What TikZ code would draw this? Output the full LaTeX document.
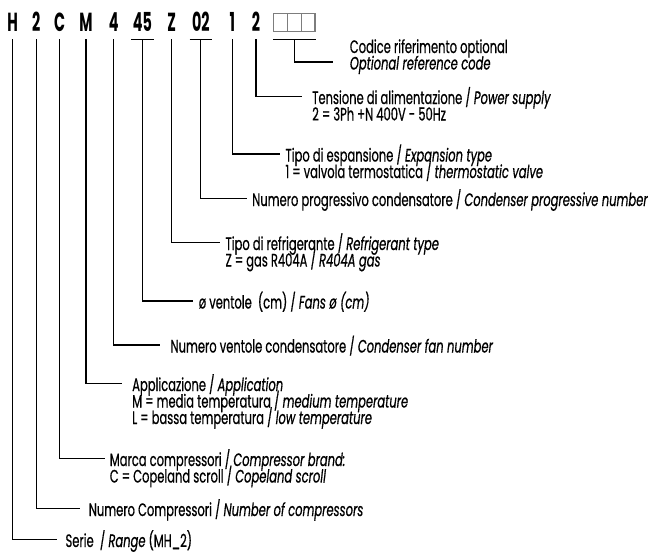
\documentclass[tikz,border=0pt]{standalone}
\usepackage{fontspec}
\setmainfont{Poppins}[FakeStretch=0.64, FakeBold=0.6]
\newfontfamily\codefont{Poppins}[FakeStretch=0.55]

\tikzset{every picture/.style={line width=0.8pt}}
\tikzset{
  code/.style={anchor=base, inner xsep=0pt, inner ysep=5.1pt, text depth=0pt,
    font=\codefont\bfseries\fontsize{19.6}{20}\selectfont},
  lbl/.style={anchor=base west, inner sep=0pt, text height=11.25pt, text depth=0pt,
    font=\fontsize{13.5}{15}\selectfont},
  leader/.style={shorten >=3.75pt},
  slot/.style={color={rgb, 255:red, 125; green, 125; blue, 125}}
}

\begin{document}
\begin{tikzpicture}[x=0.75pt,y=0.75pt,yscale=-1,xscale=1]
\useasboundingbox (0,0) rectangle (655,554);

%Code letters
\node [code] (cH) at (12.7,31.7) {H};
\node [code] (cNa) at (36.2,31.7) {2};
\node [code] (cC) at (59.7,31.7) {C};
\node [code] (cM) at (86,31.7) {M};
\node [code] (cF) at (113.8,31.7) {4};
\node [code, minimum width=16.2pt] (cD) at (142.5,31.7) {45};
\node [code] (cZ) at (171.7,31.7) {Z};
\node [code, minimum width=16.3pt] (cP) at (200.9,31.7) {02};
\node [code] (cE) at (232.2,31.7) {1};
\node [code] (cV) at (256,31.7) {2};
\node [code, minimum width=31.3pt] (cO) at (294.2,31.7) {\phantom{0}};

%Shape: empty boxes
\foreach \i in {0,1,2}
  \draw [slot] (273.3+13.9*\i,13.3) rectangle ++(13.9,18.4);

%Straight Lines (underlines)
\draw (cD.south west) -- (cD.south east);
\draw (cP.south west) -- (cP.south east);
\draw (cO.south west) -- (cO.south east);

% Text Node
\node [lbl] (tO) at (349.3,53) {Codice riferimento optional};
\node [lbl] (tOb) at (349.3,69.5) {\itshape Optional reference code};
% Text Node
\node [lbl] (tV) at (311.7,104) {Tensione di alimentazione / \textit{Power supply}};
\node [lbl] (tVb) at (311.7,120.5) {2 = 3Ph +N 400V - 50Hz};
% Text Node
\node [lbl] (tE) at (285,161.5) {Tipo di espansione / \textit{Expansion type}};
\node [lbl] (tEb) at (285,178) {1 = valvola termostatica / \textit{thermostatic valve}};
% Text Node
\node [lbl] (tP) at (251.7,206) {Numero progressivo condensatore / \textit{Condenser progressive number}};
% Text Node
\node [lbl] (tZ) at (225,250) {Tipo di refrigerante / \textit{Refrigerant type}};
\node [lbl] (tZb) at (225,266.5) {Z = gas R404A / \textit{R404A gas}};
% Text Node
\node [lbl] (tD) at (198.3,308.5) {ø ventole~ (cm) / \textit{Fans ø (cm)}};
% Text Node
\node [lbl] (tF) at (170,352.5) {Numero ventole condensatore / \textit{Condenser fan number}};
% Text Node
\node [lbl] (tM) at (131.7,391) {Applicazione / \textit{Application}};
\node [lbl] (tMb) at (131.7,407.5) {M = media temperatura / \textit{medium temperature}};
\node [lbl] (tMc) at (131.7,424) {L = bassa temperatura / \textit{low temperature}};
% Text Node
\node [lbl] (tC) at (109.3,466) {Marca compressori / \textit{Compressor brand:}};
\node [lbl] (tCb) at (109.3,482.5) {C = Copeland scroll / \textit{Copeland scroll}};
% Text Node
\node [lbl] (tNa) at (88.3,516) {Numero Compressori / \textit{Number of compressors}};
% Text Node
\node [lbl] (tH) at (65,547) {Serie~ / \textit{Range} (MH\_2)};

%Straight Lines (leaders)
\draw [leader, shorten >=12pt] (cO.south) |- (tOb.west);
\draw [leader, shorten >=7.5pt] (cV.south) |- (tV.west);
\draw [leader] (cE.south) |- (tE.west);
\draw [leader] (cP.south) |- (tP.west);
\draw [leader] (cZ.south) |- (tZ.west);
\draw [leader] (cD.south) |- (tD.west);
\draw [leader, shorten >=7.5pt] (cF.south) |- (tF.west);
\draw [leader, shorten >=7.5pt] (cM.south) |- (tM.west);
\draw [leader, shorten >=3.2pt] (cC.south) |- (tC.west);
\draw [leader, shorten >=6.2pt] (cNa.south) |- (tNa.west);
\draw [leader, shorten >=6.2pt] (cH.south) |- (tH.west);

\end{tikzpicture}
\end{document}
